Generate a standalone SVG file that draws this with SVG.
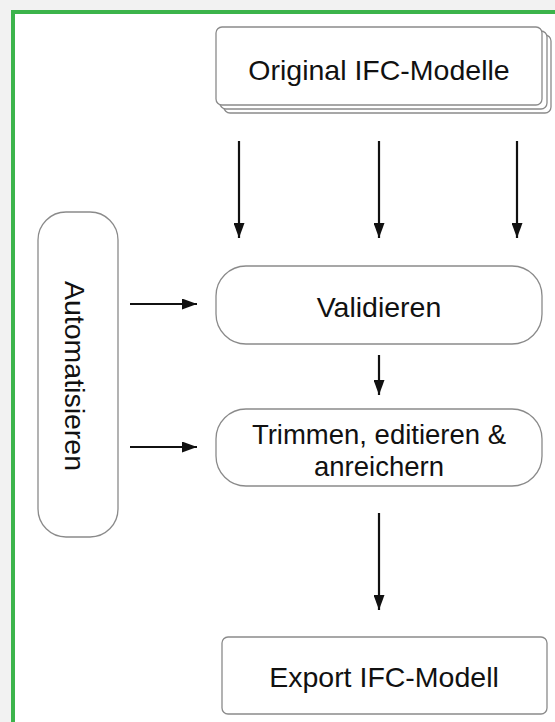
<svg xmlns="http://www.w3.org/2000/svg" width="555" height="722" viewBox="0 0 555 722">
<style>
.box{fill:#fff;stroke:#8a8a8a;stroke-width:1.3}
.lbl{font-family:"Liberation Sans",Arial,sans-serif;font-size:28.5px;fill:#111;text-anchor:middle}
.lbl2{font-size:27.5px}
.conn{stroke:#111;stroke-width:2.2;fill:none;marker-end:url(#ah)}
</style>
<defs>
<marker id="ah" viewBox="0 0 15 11" refX="15" refY="5.5" markerWidth="15" markerHeight="11" markerUnits="userSpaceOnUse" orient="auto">
<path d="M0,0 L15,5.5 L0,11 Z" fill="#111"/>
</marker>
</defs>
<rect x="0" y="0" width="555" height="722" fill="#f2f2f2"/>
<rect x="13" y="12" width="560" height="730" fill="#fff" stroke="#3cb44b" stroke-width="4"/>
<g id="node-original">
<rect class="box" x="224" y="35" width="327" height="78" rx="6"/>
<rect class="box" x="220" y="31" width="327" height="78" rx="6"/>
<rect class="box" x="216" y="27" width="326" height="78" rx="6"/>
<text class="lbl" x="379" y="80">Original IFC-Modelle</text>
</g>
<g id="node-automatisieren">
<rect class="box" x="38" y="212" width="80" height="325" rx="28"/>
<text class="lbl" transform="translate(65,376) rotate(90)">Automatisieren</text>
</g>
<g id="node-validieren">
<rect class="box" x="216" y="266" width="326" height="78" rx="30"/>
<text class="lbl" x="379" y="317">Validieren</text>
</g>
<g id="node-trimmen">
<rect class="box" x="216" y="409" width="326" height="77" rx="30"/>
<text class="lbl lbl2" x="379" y="444">Trimmen, editieren &amp;</text>
<text class="lbl lbl2" x="379" y="476">anreichern</text>
</g>
<g id="node-export">
<rect class="box" x="222" y="637" width="325" height="77" rx="6"/>
<text class="lbl" x="384" y="687">Export IFC-Modell</text>
</g>
<g id="connectors">
<line class="conn" x1="239" y1="141" x2="239" y2="238"/>
<line class="conn" x1="379" y1="141" x2="379" y2="238"/>
<line class="conn" x1="517" y1="141" x2="517" y2="238"/>
<line class="conn" x1="130" y1="304" x2="197" y2="304"/>
<line class="conn" x1="130" y1="447" x2="197" y2="447"/>
<line class="conn" x1="379" y1="355" x2="379" y2="395"/>
<line class="conn" x1="379" y1="513" x2="379" y2="610"/>
</g>
</svg>
